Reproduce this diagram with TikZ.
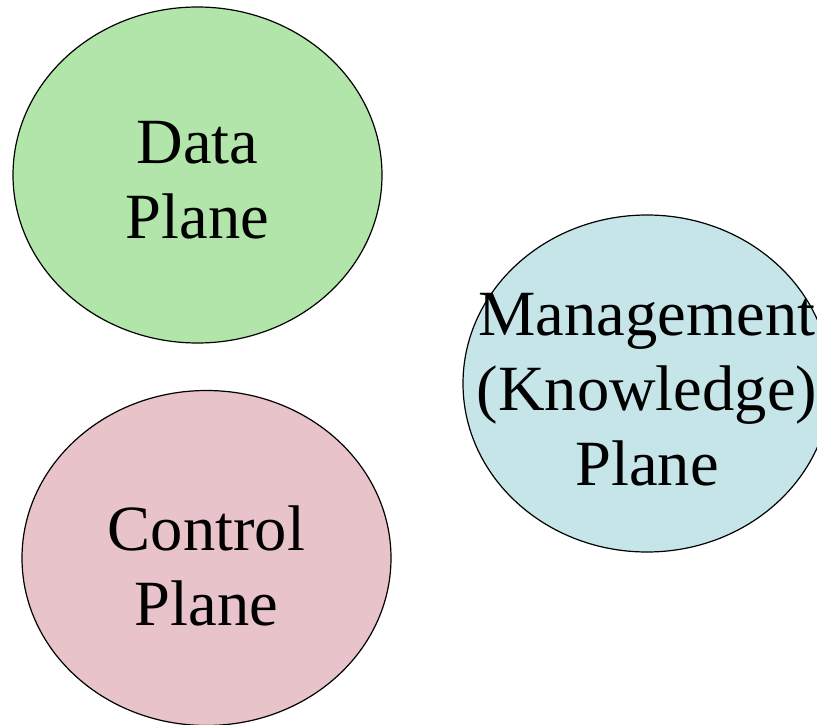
\documentclass[tikz,border=0pt]{standalone}
\usepackage{fontspec}
\setmainfont{Liberation Serif}
\usetikzlibrary{shapes.geometric}
\definecolor{dataGreen}{HTML}{B2E5A9}
\definecolor{ctrlPink}{HTML}{E8C3CA}
\definecolor{mgmtBlue}{HTML}{C5E5E8}
\begin{document}
\begin{tikzpicture}[x=1pt,y=-1pt,
  plane/.style={ellipse,draw=black,line width=1.2pt,inner sep=0pt},
  planelabel/.style={align=center,inner sep=0pt,
    font=\fontsize{64.5}{75}\selectfont}]
  \useasboundingbox (0,0) rectangle (817,725);
  % the three planes
  \node[plane,fill=dataGreen,minimum width=369pt,minimum height=336pt] (data) at (197.5,175) {};
  \node[plane,fill=ctrlPink,minimum width=369pt,minimum height=335pt] (control) at (206.5,558) {};
  \node[plane,fill=mgmtBlue,minimum width=368pt,minimum height=337pt] (mgmt) at (647,383.5) {};
  % their names
  \node[planelabel] (datalabel) at (197.5,180.5) {Data\\Plane};
  \node[planelabel] (controllabel) at (206.5,566) {Control\\Plane};
  \node[planelabel] (mgmtlabel) at (647,390) {Management\\(Knowledge)\\Plane};
\end{tikzpicture}
\end{document}
